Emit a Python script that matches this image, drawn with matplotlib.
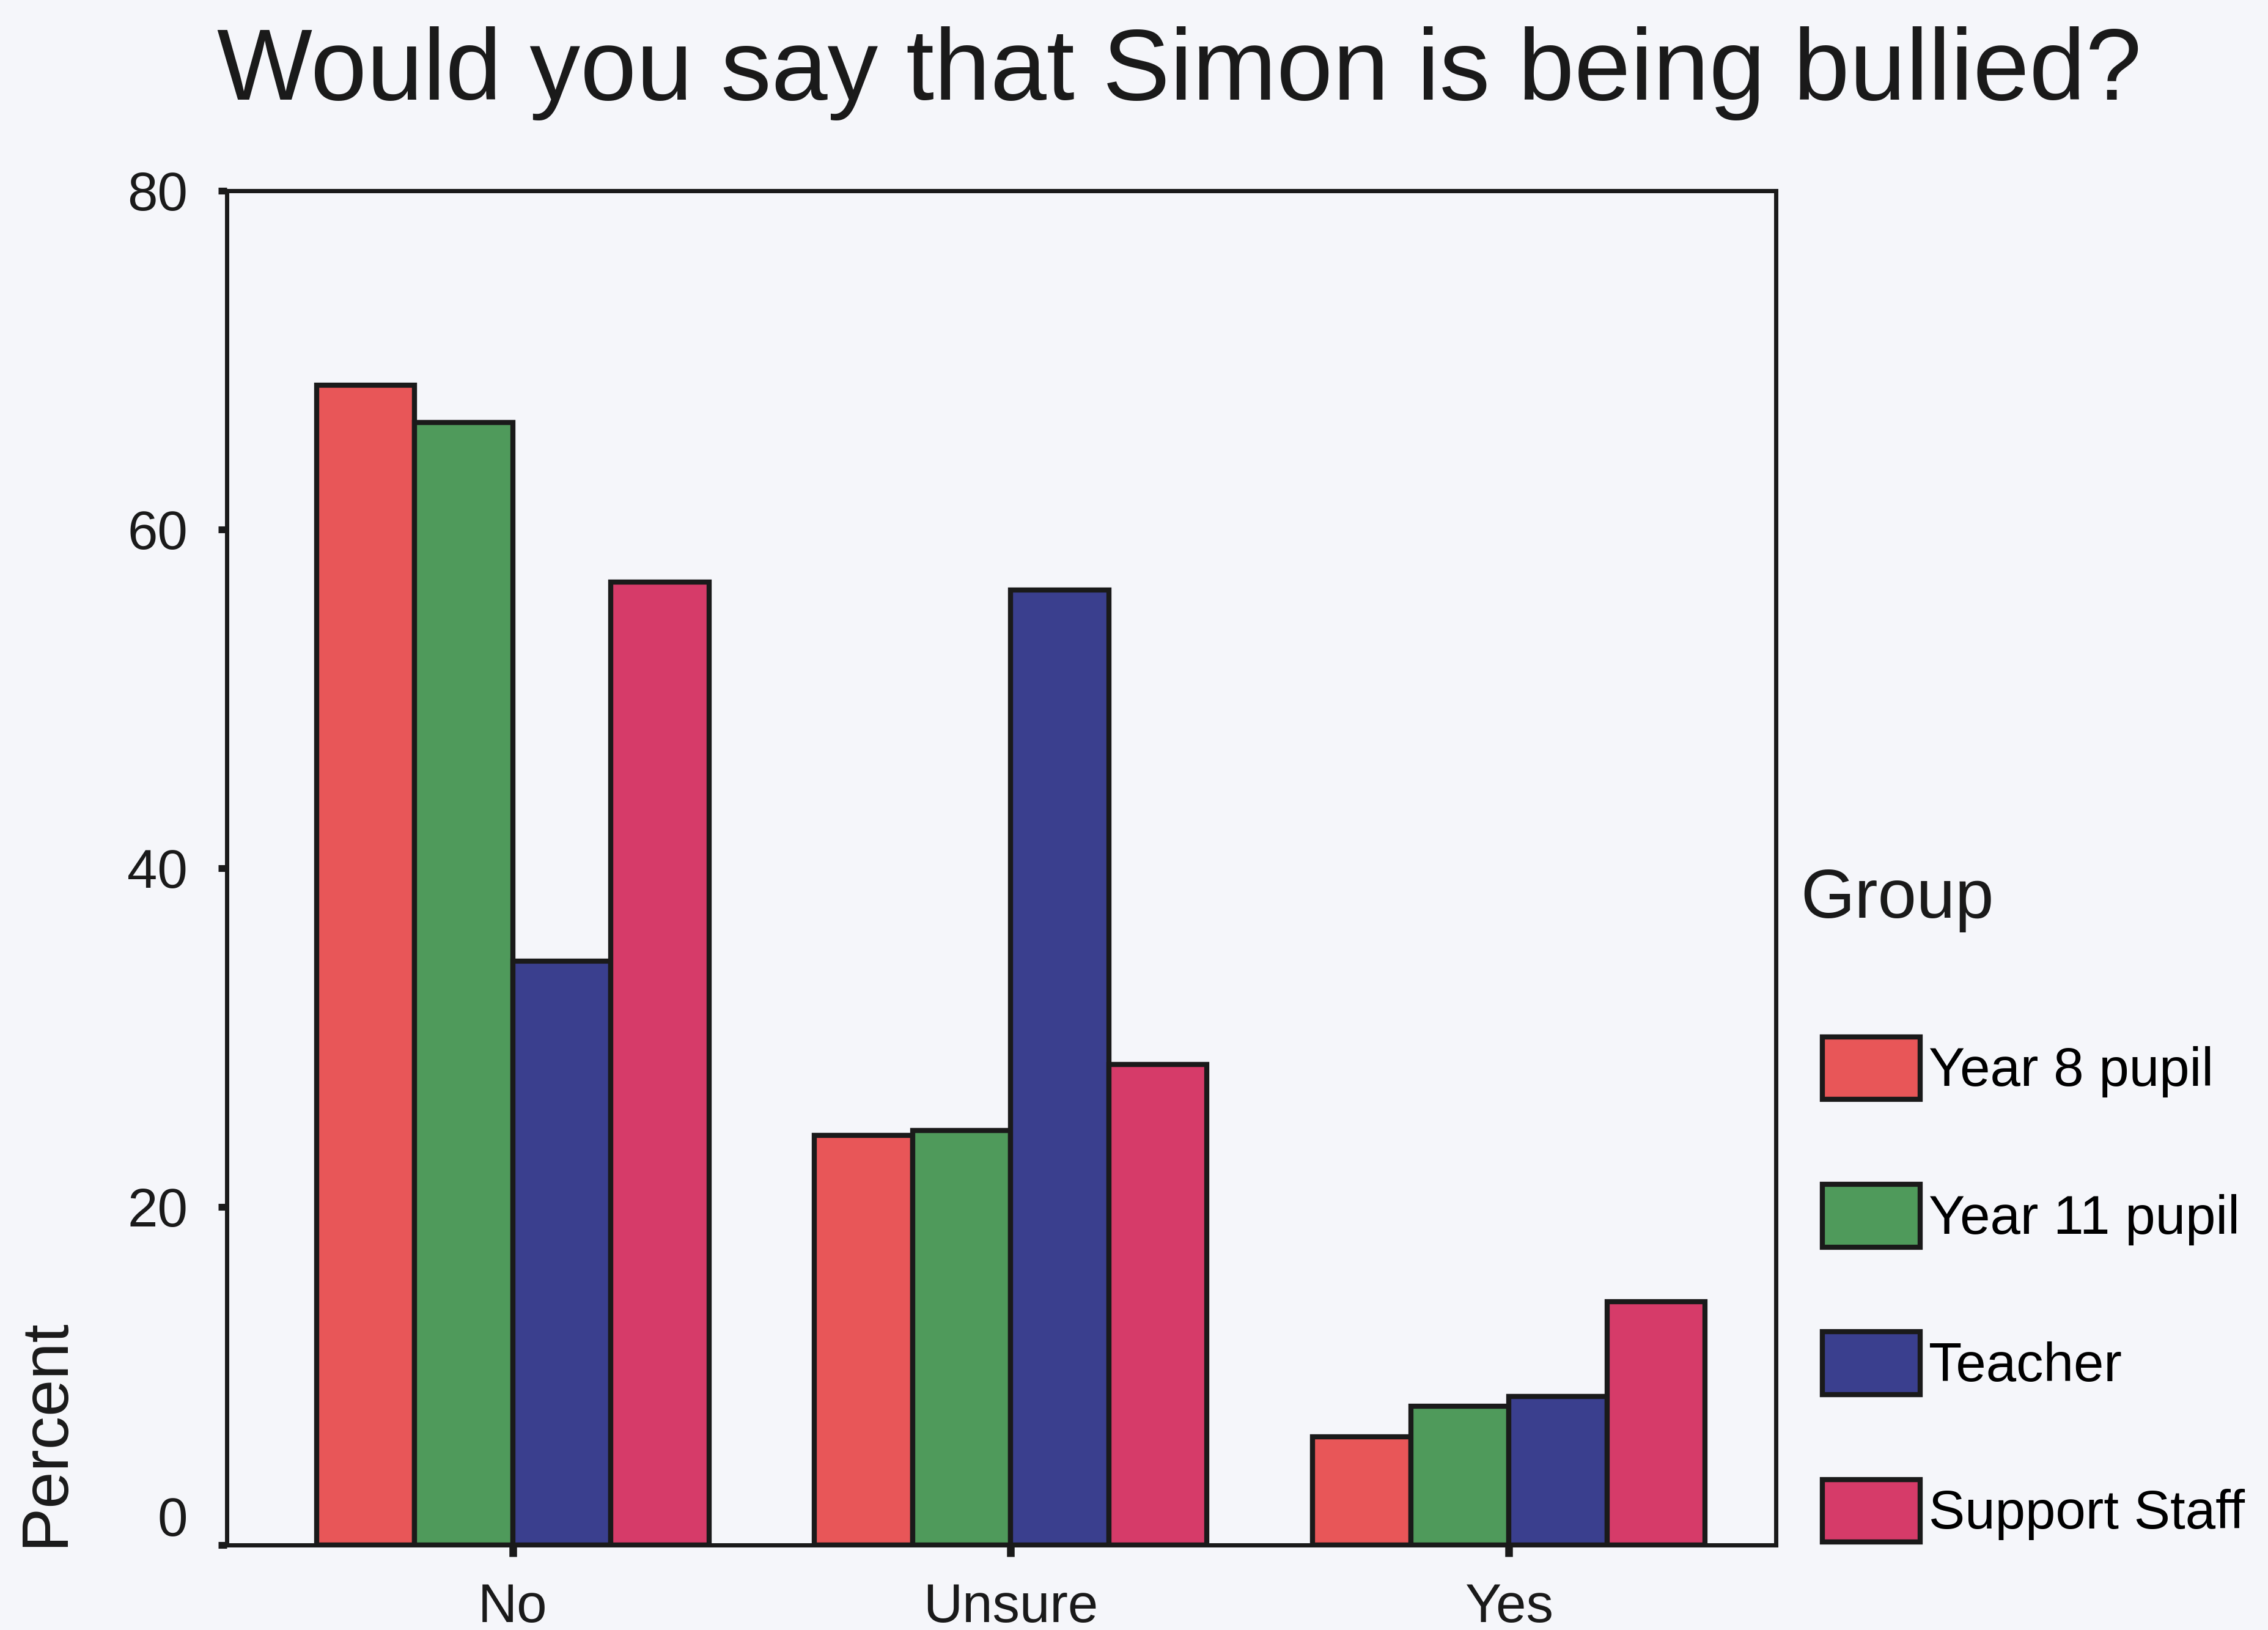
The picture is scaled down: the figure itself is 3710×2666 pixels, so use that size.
import matplotlib.pyplot as plt
import matplotlib.transforms as mtransforms
import numpy as np

plt.rcParams['font.family'] = ['Liberation Sans', 'DejaVu Sans']

answers = ["No", "Unsure", "Yes"]
groups = ["Year 8 pupil", "Year 11 pupil", "Teacher", "Support Staff"]
year8 = [68.5, 24.2, 6.4]
year11 = [66.3, 24.5, 8.2]
teacher = [34.5, 56.4, 8.8]
support = [56.9, 28.4, 14.4]
colours = ["#E85658", "#4F9A5B", "#3A3F8E", "#D63B69"]

yticks = [0, 20, 40, 60, 80]

fig = plt.figure(figsize=(37.1, 26.66), dpi=100)
fig.patch.set_facecolor("#F5F6FA")
ax = fig.add_axes([0.100, 0.052, 0.683, 0.831])
ax.set_facecolor("#F5F6FA")

x = np.arange(len(answers))
w = 0.197
series = [year8, year11, teacher, support]
for i, (vals, name, col) in enumerate(zip(series, groups, colours)):
    ax.bar(x + (i - 1.5) * w, vals, w, color=col, edgecolor="#1a1a1a",
           linewidth=6, label=name, zorder=3)

ax.set_xlim(-0.574, 2.536)
ax.set_ylim(0, 80)
ax.set_yticks(yticks)
ax.set_xticks(x)
ax.set_xticklabels(answers)

for s in ax.spines.values():
    s.set_linewidth(5)
    s.set_color("#1a1a1a")

ax.tick_params(axis="y", direction="out", length=10, width=8, pad=36,
               labelsize=64, color="#1a1a1a", labelcolor="#1a1a1a")
ax.tick_params(axis="x", direction="out", length=14, width=9, pad=30,
               labelsize=64, color="#1a1a1a", labelcolor="#1a1a1a")

# the "0" label sits a little above its tick in the original
zero = ax.yaxis.get_major_ticks()[0].label1
zero.set_transform(zero.get_transform() +
                   mtransforms.ScaledTranslation(0, 0.48, fig.dpi_scale_trans))

ax.set_ylabel("Percent", fontsize=78, color="#1a1a1a")
ax.yaxis.set_label_coords(-0.097, 0.083)

fig.text(0.52, 0.955, "Would you say that Simon is being bullied?",
         fontsize=119, ha="center", va="center", color="#1a1a1a")

fig.text(0.794, 0.448, "Group", fontsize=82, ha="left", va="center",
         color="#1a1a1a")
leg = fig.legend(loc="upper left", bbox_to_anchor=(0.8036, 0.364),
                 frameon=False, fontsize=64,
                 handlelength=1.8, handleheight=1.4, handletextpad=0.15,
                 labelspacing=1.56, borderaxespad=0, borderpad=0)
for p in leg.get_patches():
    p.set_linewidth(6)

fig.savefig("out.png", dpi=100, facecolor=fig.get_facecolor())
